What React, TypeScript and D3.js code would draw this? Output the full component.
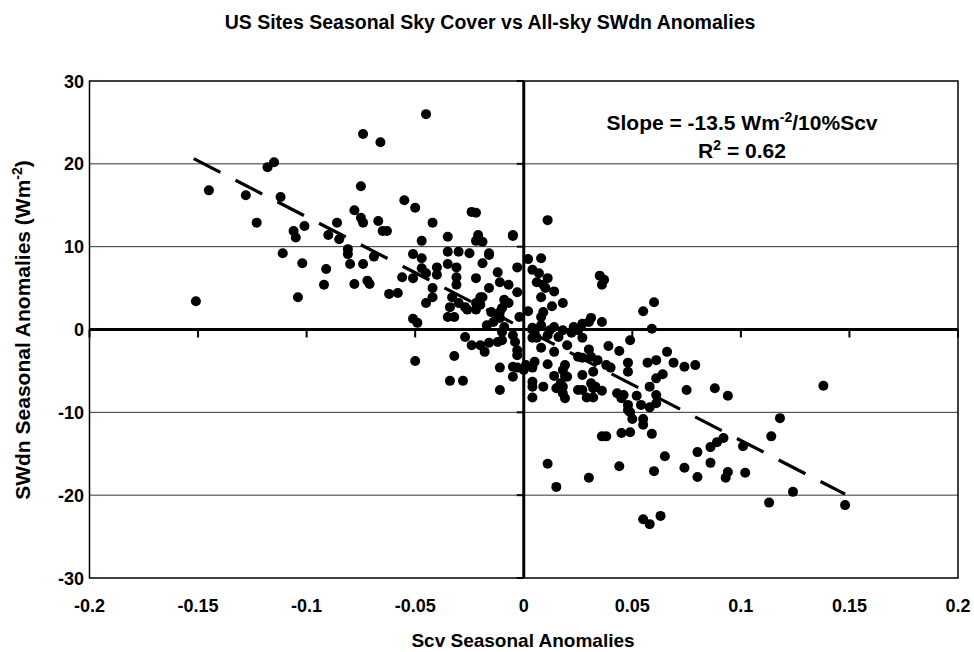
import React from 'react';
import * as d3 from 'd3';

// Scv seasonal anomalies (x) and SWdn seasonal anomalies (y)
const scvValues = [
  -0.151, -0.145, -0.128, -0.123, -0.118, -0.115, -0.112, -0.111, -0.106, -0.105,
  -0.104, -0.102, -0.101, -0.092, -0.091, -0.090, -0.086, -0.085, -0.081, -0.081,
  -0.080, -0.045, -0.074, -0.066, -0.075, -0.055, -0.050, -0.078, -0.075, -0.074,
  -0.067, -0.065, -0.063, -0.042, -0.047, -0.035, -0.024, -0.022, -0.021, -0.022,
  -0.019, -0.005, -0.051, -0.035, -0.030, -0.025, -0.016, -0.074, -0.069, -0.078,
  -0.072, -0.071, -0.062, -0.058, -0.056, -0.047, -0.051, -0.047, -0.045, -0.042,
  -0.042, -0.045, -0.040, -0.040, -0.035, -0.031, -0.031, -0.031, -0.033, -0.034,
  -0.035, -0.032, -0.030, -0.027, -0.026, -0.022, -0.022, -0.020, -0.019, -0.022,
  -0.020, -0.019, -0.016, -0.016, -0.012, -0.011, -0.007, -0.009, -0.007, -0.010,
  -0.011, -0.015, -0.012, -0.003, -0.003, -0.002, -0.051, -0.049, -0.017, -0.014,
  -0.011, -0.009, -0.010, -0.005, -0.004, -0.027, -0.024, -0.020, -0.016, -0.012,
  -0.010, -0.018, -0.003, -0.003, -0.050, -0.032, -0.034, -0.028, -0.011, -0.005,
  -0.003, -0.005, -0.011, 0.011, -0.005, 0.002, 0.008, 0.004, 0.007, 0.006,
  0.011, 0.009, 0.010, 0.008, 0.014, 0.018, 0.013, 0.009, 0.008, 0.002,
  0.035, 0.037, 0.036, 0.055, 0.060, 0.059, 0.031, 0.030, 0.027, 0.023,
  0.018, 0.014, 0.012, 0.036, 0.008, 0.004, 0.005, 0.004, 0.006, 0.011,
  0.016, 0.022, 0.025, 0.027, 0.008, 0.020, 0.014, 0.030, 0.031, 0.025,
  0.027, 0.034, 0.049, 0.039, 0.044, 0.066, 0.061, 0.069, 0.057, 0.074,
  0.038, 0.040, 0.048, 0.048, 0.064, 0.061, 0.058, 0.001, 0.000, 0.005,
  0.004, 0.004, 0.004, 0.004, 0.011, 0.019, 0.018, 0.019, 0.020, 0.014,
  0.027, 0.032, 0.031, 0.033, 0.032, 0.029, 0.032, 0.017, 0.018, 0.018,
  0.019, 0.015, 0.009, 0.025, 0.027, 0.036, 0.043, 0.046, 0.045, 0.052,
  0.048, 0.054, 0.058, 0.061, 0.061, 0.075, 0.048, 0.049, 0.050, 0.055,
  0.055, 0.045, 0.049, 0.059, 0.036, 0.038, 0.011, 0.015, 0.030, 0.044,
  0.060, 0.065, 0.074, 0.055, 0.058, 0.063, 0.079, 0.088, 0.094, 0.138,
  0.118, 0.114, 0.092, 0.089, 0.086, 0.101, 0.080, 0.086, 0.080, 0.094,
  0.093, 0.102, 0.124, 0.113, 0.148,
];
const swdnValues = [
  3.4, 16.8, 16.2, 12.9, 19.6, 20.2, 16.0, 9.2, 11.9, 11.1,
  3.9, 8.0, 12.5, 5.4, 7.3, 11.4, 12.9, 10.9, 9.7, 9.1,
  7.9, 26.0, 23.6, 22.6, 17.3, 15.6, 14.7, 14.4, 13.5, 12.9,
  13.1, 11.9, 11.9, 12.9, 10.7, 11.2, 14.2, 14.1, 11.4, 10.7,
  10.6, 11.3, 9.1, 9.4, 9.4, 9.2, 9.2, 7.9, 8.8, 5.5,
  5.9, 5.5, 4.3, 4.4, 6.3, 8.6, 6.2, 7.4, 6.8, 5.0,
  3.9, 3.2, 7.5, 6.6, 7.9, 7.5, 6.3, 5.4, 3.9, 2.7,
  1.5, 1.5, 3.2, 2.7, 2.4, 2.4, 6.2, 3.9, 3.9, 3.2,
  3.0, 8.0, 9.0, 5.0, 6.9, 5.7, 5.4, 3.6, 3.2, 2.6,
  2.1, 2.1, 1.8, 7.5, 4.5, 1.5, 1.3, 0.8, 0.5, 0.9,
  1.4, 0.3, -0.3, -0.7, -1.5, -0.9, -1.9, -1.9, -1.6, -1.5,
  -1.3, -2.7, -2.5, -3.1, -3.8, -3.2, -6.2, -6.2, -4.6, -4.5,
  -4.6, -5.7, -7.3, 13.2, 11.4, 8.5, 8.6, 7.2, 6.8, 5.7,
  6.2, 5.4, 5.0, 3.9, 4.6, 3.2, 2.8, 2.1, 1.5, 2.2,
  6.5, 6.0, 5.4, 2.2, 3.3, 0.1, 1.4, 0.9, 0.7, 0.3,
  -0.1, 0.3, -0.1, 0.9, 0.5, 0.2, -0.3, -1.0, -1.0, -0.7,
  -0.9, -0.4, -0.1, -1.0, -2.2, -1.9, -2.7, -2.4, -3.3, -3.3,
  -3.4, -3.7, -1.3, -2.0, -2.6, -2.7, -3.7, -4.0, -4.0, -4.5,
  -4.3, -4.6, -4.0, -5.1, -5.4, -5.9, -6.9, -4.3, -4.9, -3.9,
  -4.6, -6.3, -6.9, -8.2, -4.2, -4.3, -4.9, -5.6, -5.7, -5.6,
  -5.5, -5.1, -6.5, -6.9, -7.1, -8.2, -8.2, -6.5, -6.9, -7.7,
  -8.3, -7.1, -6.9, -7.3, -7.3, -7.4, -7.7, -7.9, -8.3, -8.0,
  -9.1, -9.1, -9.4, -7.9, -8.9, -7.3, -9.7, -10.0, -10.8, -10.8,
  -11.5, -12.5, -12.4, -12.6, -12.9, -12.9, -16.2, -19.0, -17.9, -16.5,
  -17.1, -15.3, -16.7, -22.9, -23.5, -22.5, -4.3, -7.1, -8.0, -6.8,
  -10.7, -12.9, -13.1, -13.6, -14.2, -14.1, -14.8, -16.1, -17.8, -17.2,
  -17.9, -17.3, -19.6, -20.9, -21.2,
];

const xTicks = [-0.2, -0.15, -0.1, -0.05, 0, 0.05, 0.1, 0.15, 0.2];
const xTickLabels = ['-0.2', '-0.15', '-0.1', '-0.05', '0', '0.05', '0.1', '0.15', '0.2'];
const yTicks = [30, 20, 10, 0, -10, -20, -30];
const yTickLabels = ['30', '20', '10', '0', '-10', '-20', '-30'];
const gridValues = [20, 10, -10, -20];

// linear fit
const fitSlope = -135;
const fitIntercept = 0.1;
const fitXRange = [-0.152, 0.148];

const FONT = "Arial, 'Liberation Sans', Helvetica, sans-serif";

export default function App() {
  const W = 974;
  const H = 652;
  const left = 89.5, right = 958, top = 81, bottom = 578;
  const x = d3.scaleLinear().domain([-0.2, 0.2]).range([left, right]);
  const y = d3.scaleLinear().domain([-30, 30]).range([bottom, top]);

  const points = scvValues.map((v, i) => ({ sx: v, sy: swdnValues[i] }));
  const fitData = fitXRange.map((xv) => ({ xv, yv: fitIntercept + fitSlope * xv }));
  const fitLine = d3.line<{ xv: number; yv: number }>().x((d) => x(d.xv)).y((d) => y(d.yv))(fitData) || '';

  return (
    <svg width={W} height={H} style={{ position: 'absolute', left: 0, top: 0, background: '#fff' }} fontFamily={FONT}>
      <rect x={0} y={0} width={W} height={H} fill="#fff" />
      <text x={490} y={29} textAnchor="middle" fontSize={19.5} fontWeight="bold">
        US Sites Seasonal Sky Cover vs All-sky SWdn Anomalies
      </text>

      {/* grid */}
      {gridValues.map((g) => (
        <line key={g} x1={left} x2={right} y1={y(g)} y2={y(g)} stroke="#333" strokeWidth={1} />
      ))}
      {/* plot border */}
      <rect x={left} y={top} width={right - left} height={bottom - top} fill="none" stroke="#000" strokeWidth={1.5} />

      {/* zero axes */}
      <line x1={left} x2={right} y1={y(0)} y2={y(0)} stroke="#000" strokeWidth={3} />
      <line x1={x(0)} x2={x(0)} y1={top} y2={bottom} stroke="#000" strokeWidth={3} />
      {xTicks.map((t) => (
        <line key={'xt' + t} x1={x(t)} x2={x(t)} y1={y(0)} y2={y(0) + 8} stroke="#000" strokeWidth={2} />
      ))}
      {yTicks.map((t) => (
        <line key={'yt' + t} x1={x(0) - 7} x2={x(0)} y1={y(t)} y2={y(t)} stroke="#000" strokeWidth={2} />
      ))}

      {/* points */}
      {points.map((p, i) => (
        <circle key={i} cx={x(p.sx)} cy={y(p.sy)} r={5} fill="#000" />
      ))}

      {/* fit line */}
      <path d={fitLine} fill="none" stroke="#000" strokeWidth={3.2} strokeDasharray="30,17" />

      {/* tick labels */}
      {xTicks.map((t, i) => (
        <text key={'xl' + t} x={x(t)} y={612} textAnchor="middle" fontSize={18} fontWeight="bold">
          {xTickLabels[i]}
        </text>
      ))}
      {yTicks.map((t, i) => (
        <text key={'yl' + t} x={84} y={y(t) + 6.5} textAnchor="end" fontSize={18} fontWeight="bold">
          {yTickLabels[i]}
        </text>
      ))}

      {/* axis titles */}
      <text x={523} y={647} textAnchor="middle" fontSize={19} fontWeight="bold">
        Scv Seasonal Anomalies
      </text>
      <text transform="translate(30,330) rotate(-90)" textAnchor="middle" fontSize={21} fontWeight="bold">
        SWdn Seasonal Anomalies (Wm<tspan fontSize={14} dy={-8}>-2</tspan><tspan dy={8}>)</tspan>
      </text>

      {/* annotation */}
      <text x={742} y={130} textAnchor="middle" fontSize={21} fontWeight="bold">
        Slope = -13.5 Wm<tspan fontSize={14} dy={-8}>-2</tspan><tspan dy={8}>/10%Scv</tspan>
      </text>
      <text x={742} y={158} textAnchor="middle" fontSize={21} fontWeight="bold">
        R<tspan fontSize={14} dy={-8}>2</tspan><tspan dy={8}> = 0.62</tspan>
      </text>
    </svg>
  );
}
